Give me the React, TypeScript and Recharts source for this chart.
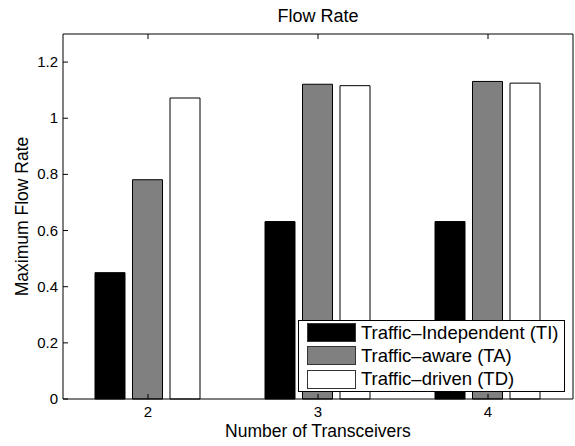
import { Bar, BarChart, Label, Legend, XAxis, YAxis } from "recharts";

// number of transceivers on the x axis
const transceivers = ["2", "3", "4"];
// maximum flow rate per scheme
const independent = [0.45, 0.632, 0.632];
const aware = [0.781, 1.121, 1.131];
const driven = [1.072, 1.116, 1.125];
const yTicks = [0, 0.2, 0.4, 0.6, 0.8, 1, 1.2];

const series = [
  { key: "ti", name: "Traffic–Independent (TI)", fill: "#000000" },
  { key: "ta", name: "Traffic–aware (TA)", fill: "#808080" },
  { key: "td", name: "Traffic–driven (TD)", fill: "#ffffff" },
];

const data = transceivers.map((n, i) => ({ n, ti: independent[i], ta: aware[i], td: driven[i] }));

const FONT = '"Liberation Sans", Arial, Helvetica, sans-serif';
const TICK = 5;

// matlab-style ticks point into the plot box
function BottomTick({ x, y, payload }: any) {
  return (
    <g>
      <line x1={x} x2={x} y1={y} y2={y - TICK} stroke="#000" />
      <text x={x} y={y + 18} textAnchor="middle" fontSize={15} fontFamily={FONT} fill="#000">
        {payload.value}
      </text>
    </g>
  );
}

function TopTick({ x, y }: any) {
  return <line x1={x} x2={x} y1={y} y2={y + TICK} stroke="#000" />;
}

function LeftTick({ x, y, payload }: any) {
  return (
    <g>
      <line x1={x} x2={x + TICK} y1={y} y2={y} stroke="#000" />
      <text x={x - 5} y={y + 5} textAnchor="end" fontSize={15} fontFamily={FONT} fill="#000">
        {String(payload.value)}
      </text>
    </g>
  );
}

function RightTick({ x, y }: any) {
  return <line x1={x} x2={x - TICK} y1={y} y2={y} stroke="#000" />;
}

function LegendBox() {
  return (
    <div style={{ border: "1px solid #000", background: "#fff", paddingLeft: 8, fontFamily: FONT }}>
      {series.map((s) => (
        <div key={s.key} style={{ height: 23.33, display: "flex", alignItems: "center" }}>
          <div style={{ width: 47, height: 17, background: s.fill, border: "1px solid #333" }} />
          <span style={{ marginLeft: 5, fontSize: 18.5, color: "#000", whiteSpace: "nowrap" }}>{s.name}</span>
        </div>
      ))}
    </div>
  );
}

export default function App() {
  return (
    <div style={{ position: "absolute", left: 0, top: 0, background: "#fff" }}>
      <BarChart
        width={575}
        height={446}
        data={data}
        margin={{ top: 33, right: 1, bottom: 46, left: 62 }}
        barCategoryGap={32}
        barGap={7.5}
      >
        <XAxis
          dataKey="n"
          height={1}
          interval={0}
          padding={{ left: 0, right: 0 }}
          axisLine={{ stroke: "#000" }}
          tickLine={false}
          tickSize={0}
          tickMargin={0}
          tick={<BottomTick />}
        >
          <Label
            content={({ viewBox }: any) => (
              <text x={viewBox.x + viewBox.width / 2} y={viewBox.y + 38} textAnchor="middle" fontSize={17.5} fontFamily={FONT} fill="#000">
                Number of Transceivers
              </text>
            )}
          />
        </XAxis>
        <XAxis
          xAxisId="top"
          dataKey="n"
          orientation="top"
          height={1}
          interval={0}
          axisLine={{ stroke: "#000" }}
          tickLine={false}
          tickSize={0}
          tickMargin={0}
          tick={<TopTick />}
        >
          <Label
            content={({ viewBox }: any) => (
              <text x={viewBox.x + viewBox.width / 2} y={viewBox.y + viewBox.height - 12} textAnchor="middle" fontSize={18} fontFamily={FONT} fill="#000">
                Flow Rate
              </text>
            )}
          />
        </XAxis>
        <YAxis
          width={1}
          domain={[0, 1.3]}
          ticks={yTicks}
          interval={0}
          axisLine={{ stroke: "#000" }}
          tickLine={false}
          tickSize={0}
          tickMargin={0}
          tick={<LeftTick />}
        >
          <Label
            content={({ viewBox }: any) => {
              const cx = viewBox.x + viewBox.width - 35.5;
              const cy = viewBox.y + viewBox.height / 2;
              return (
                <text x={cx} y={cy} transform={`rotate(-90 ${cx} ${cy})`} textAnchor="middle" fontSize={17.5} fontFamily={FONT} fill="#000">
                  Maximum Flow Rate
                </text>
              );
            }}
          />
        </YAxis>
        <YAxis
          yAxisId="right"
          orientation="right"
          width={1}
          domain={[0, 1.3]}
          ticks={yTicks}
          interval={0}
          axisLine={{ stroke: "#000" }}
          tickLine={false}
          tickSize={0}
          tickMargin={0}
          tick={<RightTick />}
        />
        {series.map((s) => (
          <Bar key={s.key} dataKey={s.key} name={s.name} fill={s.fill} stroke="#000" strokeWidth={1} isAnimationActive={false} />
        ))}
        <Legend
          layout="vertical"
          align="center"
          verticalAlign="middle"
          wrapperStyle={{ left: 298, top: 320, width: 267, bottom: "auto", right: "auto" }}
          content={() => <LegendBox />}
        />
      </BarChart>
    </div>
  );
}
